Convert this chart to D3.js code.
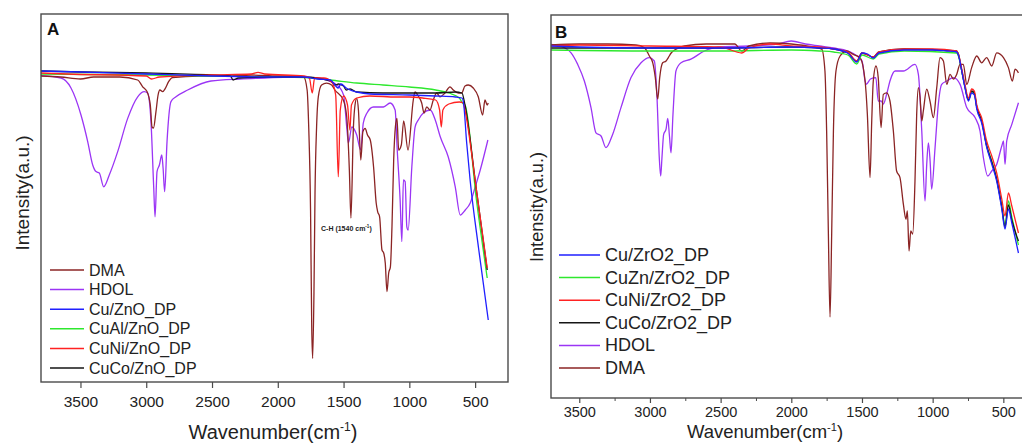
<!DOCTYPE html>
<html>
<head>
<meta charset="utf-8">
<script src="https://cdn.jsdelivr.net/npm/d3@7"></script>
<style>
body { margin: 0; background: #fff; }
svg { display: block; font-family: "Liberation Sans", Arial, sans-serif; }
</style>
</head>
<body>
<div id="canvas"></div>
<script>
// FTIR spectra, values: [wavenumber, intensity a.u.]
var dmaA = [[3800,76.5],[3650,76.25],[3500,75.75],[3400,76.25],[3200,76.25],[3065,75.5],[3027,73.8],[2994,72.6],[2969,69.25],[2956,63.75],[2945,63.5],[2926,67.6],[2910,71.75],[2896,73],[2876,72.6],[2855,73.4],[2830,75.1],[2800,76.1],[2600,76.5],[2400,76.5],[2200,76.75],[2000,76.5],[1850,76.5],[1803,76.3],[1777,73],[1765,63.8],[1751,43],[1742,13.8],[1735,5.9],[1725,22.25],[1717,47.25],[1705,63.8],[1692,71.3],[1667,74.25],[1629,74.7],[1591,74.25],[1566,73],[1502,70.5],[1476,66.3],[1456,53],[1444,41],[1425,63.8],[1413,69.25],[1400,70.9],[1387,68],[1369,55.5],[1353,62.6],[1336,63.4],[1318,61.75],[1297,60.5],[1272,53.8],[1252,44.75],[1241,42.6],[1226,41.3],[1208,33],[1195,32.25],[1183,29.75],[1170,22.6],[1157,27.25],[1144,28.8],[1132,38.8],[1119,55.5],[1106,63.8],[1094,65.9],[1081,58],[1061,59.25],[1043,65.25],[1010,58],[970,70.5],[957,72.5],[932,71.5],[906,69.75],[888,67.25],[868,68.8],[843,68],[818,70.5],[792,72.25],[767,71.3],[729,72.25],[691,73.8],[666,73],[628,72.25],[602,72.25],[577,74],[552,74.25],[514,73.5],[476,71.3],[443,66.75],[425,70.5],[408,69.25],[400,69.75]]
var hdolA = [[3800,76.6],[3648,76],[3572,73.5],[3496,66.75],[3445,60.1],[3407,54.25],[3382,52.6],[3357,52.25],[3323,48.8],[3281,51.75],[3217,57.6],[3141,65.9],[3065,71.3],[3015,72.6],[2990,72.25],[2964,65.1],[2943,48.5],[2933,41.3],[2918,52.6],[2900,54.25],[2882,56.75],[2872,53.5],[2860,47.6],[2842,60.1],[2812,70.1],[2774,71.3],[2685,73],[2508,75.25],[2287,75.75],[2100,76],[1900,76.25],[1700,76],[1550,74.25],[1500,71.75],[1474,63],[1463,59.75],[1437,63.75],[1400,61.75],[1370,58],[1350,64.75],[1322,67.25],[1273,68.75],[1197,68.75],[1146,69.75],[1108,68],[1092,58],[1070,45.5],[1057,35.1],[1045,50.5],[1032,50.1],[1019,38.8],[1009,38],[981,53.8],[956,63.8],[932,65.5],[894,67.25],[841,68],[803,65.5],[765,61.3],[704,56.25],[651,48.8],[613,41.75],[575,43],[537,44.75],[499,48.8],[461,53],[403,60.5]]
var cuZnO = [[3800,77.75],[3500,77.5],[3000,77],[2500,76.5],[2000,76.25],[1800,76.25],[1700,75.75],[1600,75.5],[1560,74],[1540,73.5],[1520,74.5],[1480,73.5],[1450,73],[1400,72.5],[1300,72],[1000,71.75],[800,71.5],[650,71.25],[600,71],[588,69.75],[564,59.75],[538,50.5],[475,33.75],[400,15.5]]
var cuAlZnO = [[3800,77],[3000,76.75],[2500,76.5],[2000,76.25],[1750,76],[1600,75.5],[1400,74.75],[1200,74.25],[1000,73.75],[800,73],[700,72.25],[620,71],[590,69.5],[577,69.25],[490,45.5],[408,26]]
var cuNiZnO = [[3800,77.25],[3600,77],[3000,76.5],[2960,75.75],[2900,76.25],[2500,76.75],[2200,77],[2150,77.4],[2100,77],[1800,76.5],[1760,76],[1738,72.25],[1720,76],[1650,76],[1590,75],[1560,71.75],[1540,51.3],[1525,68],[1500,71.5],[1470,69.25],[1452,63],[1440,69.25],[1400,71],[1300,71.5],[1100,71.25],[1000,71.25],[900,71],[800,70.5],[770,68],[757,63.75],[745,68],[700,69.5],[620,70],[590,69.75],[577,68],[490,48],[408,28.5]]
var cuCoZnO = [[3800,77.75],[3500,77.5],[3000,77.25],[2500,76.75],[2360,76.5],[2340,75.5],[2300,76],[2000,76.25],[1800,76.25],[1600,75.25],[1560,74.25],[1540,74.5],[1500,74],[1480,73],[1450,73.25],[1400,72.5],[1200,72.25],[800,72.25],[650,72.5],[600,72.25],[577,69.25],[490,48],[408,28]]

var hdolB = [[3700,88.4],[3606,87.6],[3558,86.3],[3511,83.4],[3464,79.25],[3417,72.6],[3382,66.3],[3346,65.5],[3311,62.6],[3264,65.9],[3205,72.6],[3134,80.1],[3063,83.8],[3004,85.1],[2969,84.25],[2950,75.1],[2934,60.1],[2924,55.5],[2915,60.1],[2903,65.9],[2886,67.2],[2874,69.9],[2862,65.5],[2851,61.3],[2837,71],[2816,81.75],[2780,83.8],[2710,84.7],[2615,86.75],[2521,87.75],[2300,88],[2100,88.5],[2000,89.25],[1900,88.5],[1800,88],[1700,87.5],[1600,86.75],[1500,84.25],[1478,79.25],[1470,78.4],[1440,79.75],[1402,80.1],[1385,74.25],[1365,74.25],[1349,73.5],[1325,76],[1302,79.25],[1266,81.75],[1207,81.75],[1125,83.4],[1101,80.9],[1077,66.75],[1054,49.25],[1042,58.4],[1030,63.8],[1018,59.25],[1007,52.2],[983,62.6],[960,73.4],[936,78.4],[900,79.25],[853,80.1],[806,78.4],[759,72.6],[700,70.1],[665,66.75],[641,60.1],[610,55.5],[582,56.75],[547,58.4],[511,63],[499,64.25],[488,58.4],[476,64.25],[440,68.4],[393,73.8]]
var dmaB = [[3700,88.25],[3500,88.5],[3300,88.5],[3100,88.25],[3040,87.6],[3004,85.5],[2980,83.8],[2962,80.1],[2945,74.7],[2931,80.1],[2910,83.8],[2886,84.25],[2870,85.1],[2850,86.25],[2816,87.2],[2757,88],[2600,88.5],[2400,88.5],[2350,86.75],[2300,88],[2150,88.75],[2000,88.5],[1850,87.75],[1785,87.2],[1762,81.75],[1750,66.75],[1738,41.75],[1726,20.25],[1714,41.75],[1702,66.75],[1684,81.75],[1655,85.5],[1608,86.75],[1561,85.9],[1514,85.1],[1478,79.25],[1462,71],[1443,55.1],[1431,69.25],[1420,79.25],[1401,83],[1385,80.1],[1365,67.6],[1349,75.9],[1325,76.3],[1302,74.25],[1278,66.75],[1255,56.75],[1231,55.1],[1207,48.4],[1189,44.7],[1179,46.75],[1167,36.75],[1155,41.75],[1141,41],[1125,54.25],[1113,70.9],[1101,77.6],[1089,75.1],[1077,69.25],[1066,71.75],[1042,77.2],[1019,74.25],[995,70.1],[971,77.6],[948,85.1],[924,84.25],[900,78.4],[877,80.9],[853,79.75],[830,80.9],[806,83.4],[783,83.4],[759,78.4],[724,82.6],[688,85.5],[653,83.8],[618,85.1],[582,83],[547,86.3],[499,85.1],[464,82.6],[436,79.25],[417,82.2],[393,81.3]]
var cuZrO2 = [[3700,88],[3500,87.75],[3000,87.5],[2500,87.5],[2000,87.75],[1800,87.5],[1700,87.25],[1600,86.25],[1537,84],[1500,86.25],[1460,86],[1420,85],[1380,86.25],[1200,87],[1000,87],[900,86.75],[830,86.5],[818,85.75],[794,81.75],[771,77.5],[747,74.25],[724,76.25],[705,75.75],[688,72.25],[653,68.75],[618,62.75],[582,58.5],[547,54.25],[511,47.25],[488,42.25],[464,47.25],[440,43.75],[393,36.25]]
var cuZnZrO2 = [[3700,87],[3000,86.75],[2500,86.75],[2000,87],[1800,86.75],[1700,86.5],[1600,85.75],[1537,83.5],[1500,85.75],[1420,84.75],[1380,86],[1200,86.75],[830,86.25],[818,85.5],[794,81.75],[771,77.75],[747,74.5],[724,76.5],[705,76],[688,72.75],[653,69.25],[618,63.25],[582,59.25],[547,54.75],[511,48],[488,43.25],[464,49.25],[440,45.25],[393,38.25]]
var cuNiZrO2 = [[3700,88],[3500,88.25],[3000,88],[2500,87.75],[2350,86.25],[2300,87.5],[2150,88.5],[2000,88],[1800,87.75],[1700,87.25],[1600,86.5],[1537,84.25],[1500,86.25],[1420,85.25],[1380,86.5],[1200,87.25],[1000,87.25],[830,86.75],[818,86],[794,82.25],[771,78.25],[747,75],[724,77.25],[705,76.75],[688,73.25],[653,70],[618,64.25],[582,60.5],[547,56.25],[511,49.75],[488,45.5],[464,51.25],[440,48],[393,41.25]]
var cuCoZrO2 = [[3700,87.5],[3000,87.5],[2500,87.5],[2000,87.75],[1800,87.5],[1700,87.25],[1600,86.25],[1537,84.25],[1500,86.25],[1420,85.25],[1380,86.5],[1200,87.25],[830,86.75],[818,86],[794,81.75],[771,77.75],[747,74.5],[724,76.75],[705,76.25],[688,72.75],[653,69.25],[618,63],[582,59],[547,54.75],[511,47.75],[488,42.75],[464,48.25],[440,44.5],[393,39.25]]

var legendA = ["DMA", "HDOL", "Cu/ZnO_DP", "CuAl/ZnO_DP", "CuNi/ZnO_DP", "CuCo/ZnO_DP"]
var legendB = ["Cu/ZrO2_DP", "CuZn/ZrO2_DP", "CuNi/ZrO2_DP", "CuCo/ZrO2_DP", "HDOL", "DMA"]
var majorTicks = [3500, 3000, 2500, 2000, 1500, 1000, 500]
var minorTicksB = [3250, 2750, 2250, 1750, 1250, 750]

var colors = {
    dma: "#8b2424", hdol: "#9b35f5", blue: "#1f1fff",
    green: "#2ee82e", red: "#ff2222", black: "#151515"
}

var width = 1022
var height = 443

var svg = d3.select("#canvas")
    .append("svg")
    .attr("width", width)
    .attr("height", height)

var panels = [
    {
        id: "A", left: 41, right: 508, top: 14, bottom: 382,
        xDomain: [3800, 250], yDomain: [0, 92],
        series: [
            { data: hdolA, color: colors.hdol },
            { data: dmaA, color: colors.dma },
            { data: cuAlZnO, color: colors.green },
            { data: cuCoZnO, color: colors.black },
            { data: cuNiZnO, color: colors.red },
            { data: cuZnO, color: colors.blue }
        ],
        legend: legendA,
        legendColors: [colors.dma, colors.hdol, colors.blue, colors.green, colors.red, colors.black],
        legendX: 50, legendY: 270, legendStep: 19.6, legendFont: 16, legendLen: 34,
        tickFont: 15.5, tickSize: 6, tickPad: 8, minor: [],
        xLabelY: 439, xLabelX: 273, xLabelFont: 20,
        yLabelX: 22, yLabelY: 193, yLabelFont: 19,
        tagX: 47, tagY: 35
    },
    {
        id: "B", left: 551, right: 1031.6, top: 15, bottom: 398,
        xDomain: [3700, 300], yDomain: [0, 95.75],
        series: [
            { data: hdolB, color: colors.hdol },
            { data: dmaB, color: colors.dma },
            { data: cuZnZrO2, color: colors.green },
            { data: cuCoZrO2, color: colors.black },
            { data: cuNiZrO2, color: colors.red },
            { data: cuZrO2, color: colors.blue }
        ],
        legend: legendB,
        legendColors: [colors.blue, colors.green, colors.red, colors.black, colors.hdol, colors.dma],
        legendX: 559, legendY: 255, legendStep: 22.6, legendFont: 18, legendLen: 41,
        tickFont: 14.5, tickSize: 5, tickPad: 4, minor: minorTicksB,
        xLabelY: 438, xLabelX: 765, xLabelFont: 18.5,
        yLabelX: 537, yLabelY: 207, yLabelFont: 18.2,
        tagX: 555, tagY: 38
    }
]

panels.forEach(drawPanel)

function drawPanel(p) {
    var xScale = d3.scaleLinear().domain(p.xDomain).range([p.left, p.right])
    var yScale = d3.scaleLinear().domain(p.yDomain).range([p.bottom, p.top])

    svg.append("clipPath")
        .attr("id", "clip" + p.id)
        .append("rect")
        .attr("x", p.left).attr("y", p.top)
        .attr("width", p.right - p.left).attr("height", p.bottom - p.top)

    var line = d3.line()
        .x(function (d) { return xScale(d[0]) })
        .y(function (d) { return yScale(d[1]) })
        .curve(d3.curveMonotoneX)

    var plot = svg.append("g").attr("clip-path", "url(#clip" + p.id + ")")
    p.series.forEach(function (s) {
        plot.append("path")
            .datum(s.data)
            .attr("d", line)
            .attr("fill", "none")
            .attr("stroke", s.color)
            .attr("stroke-width", 1.3)
            .attr("stroke-linejoin", "round")
    })

    // frame
    svg.append("rect")
        .attr("x", p.left).attr("y", p.top)
        .attr("width", p.right - p.left).attr("height", p.bottom - p.top)
        .attr("fill", "none")
        .attr("stroke", "#4a4a4a")
        .attr("stroke-width", 1.4)

    var xAxis = svg.append("g")
        .attr("transform", `translate(0,${p.bottom})`)
        .call(d3.axisBottom(xScale)
            .tickValues(majorTicks)
            .tickSize(p.tickSize)
            .tickPadding(p.tickPad)
            .tickFormat(d3.format("d")))
    xAxis.select(".domain").remove()
    xAxis.selectAll("line").attr("stroke", "#4a4a4a").attr("stroke-width", 1.2)
    xAxis.selectAll("text")
        .attr("fill", "#222")
        .style("font-size", p.tickFont + "px")
        .style("font-family", "'Liberation Sans', Arial, sans-serif")

    if (p.minor.length) {
        var minorAxis = svg.append("g")
            .attr("transform", `translate(0,${p.bottom})`)
            .call(d3.axisBottom(xScale).tickValues(p.minor).tickSize(3).tickFormat(""))
        minorAxis.select(".domain").remove()
        minorAxis.selectAll("line").attr("stroke", "#4a4a4a").attr("stroke-width", 1)
    }

    var xLabel = svg.append("text")
        .attr("x", p.xLabelX).attr("y", p.xLabelY)
        .attr("text-anchor", "middle")
        .attr("fill", "#222")
        .style("font-size", p.xLabelFont + "px")
    xLabel.append("tspan").text("Wavenumber(cm")
    xLabel.append("tspan").text("-1").attr("dy", -p.xLabelFont * 0.38)
        .style("font-size", (p.xLabelFont * 0.6) + "px")
    xLabel.append("tspan").text(")").attr("dy", p.xLabelFont * 0.38)

    svg.append("text")
        .attr("transform", `translate(${p.yLabelX},${p.yLabelY}) rotate(-90)`)
        .attr("text-anchor", "middle")
        .attr("dominant-baseline", "central")
        .attr("fill", "#222")
        .style("font-size", p.yLabelFont + "px")
        .text("Intensity(a.u.)")

    svg.append("text")
        .attr("x", p.tagX).attr("y", p.tagY)
        .attr("font-weight", "bold")
        .attr("fill", "#111")
        .style("font-size", "17px")
        .text(p.id)

    var legend = svg.append("g")
    p.legend.forEach(function (name, i) {
        var ly = p.legendY + i * p.legendStep
        legend.append("line")
            .attr("x1", p.legendX).attr("x2", p.legendX + p.legendLen)
            .attr("y1", ly).attr("y2", ly)
            .attr("stroke", p.legendColors[i])
            .attr("stroke-width", 1.5)
        legend.append("text")
            .attr("x", p.legendX + p.legendLen + 5).attr("y", ly)
            .attr("dominant-baseline", "central")
            .attr("fill", "#222")
            .style("font-size", p.legendFont + "px")
            .text(name)
    })
}

// annotation in panel A
var note = svg.append("text")
    .attr("x", 321).attr("y", 230.5)
    .attr("font-weight", "bold")
    .attr("fill", "#222")
    .style("font-size", "7px")
note.append("tspan").text("C-H (1540 cm")
note.append("tspan").text("-1").attr("dy", -2.5).style("font-size", "4.5px")
note.append("tspan").text(")").attr("dy", 2.5)
</script>
</body>
</html>
